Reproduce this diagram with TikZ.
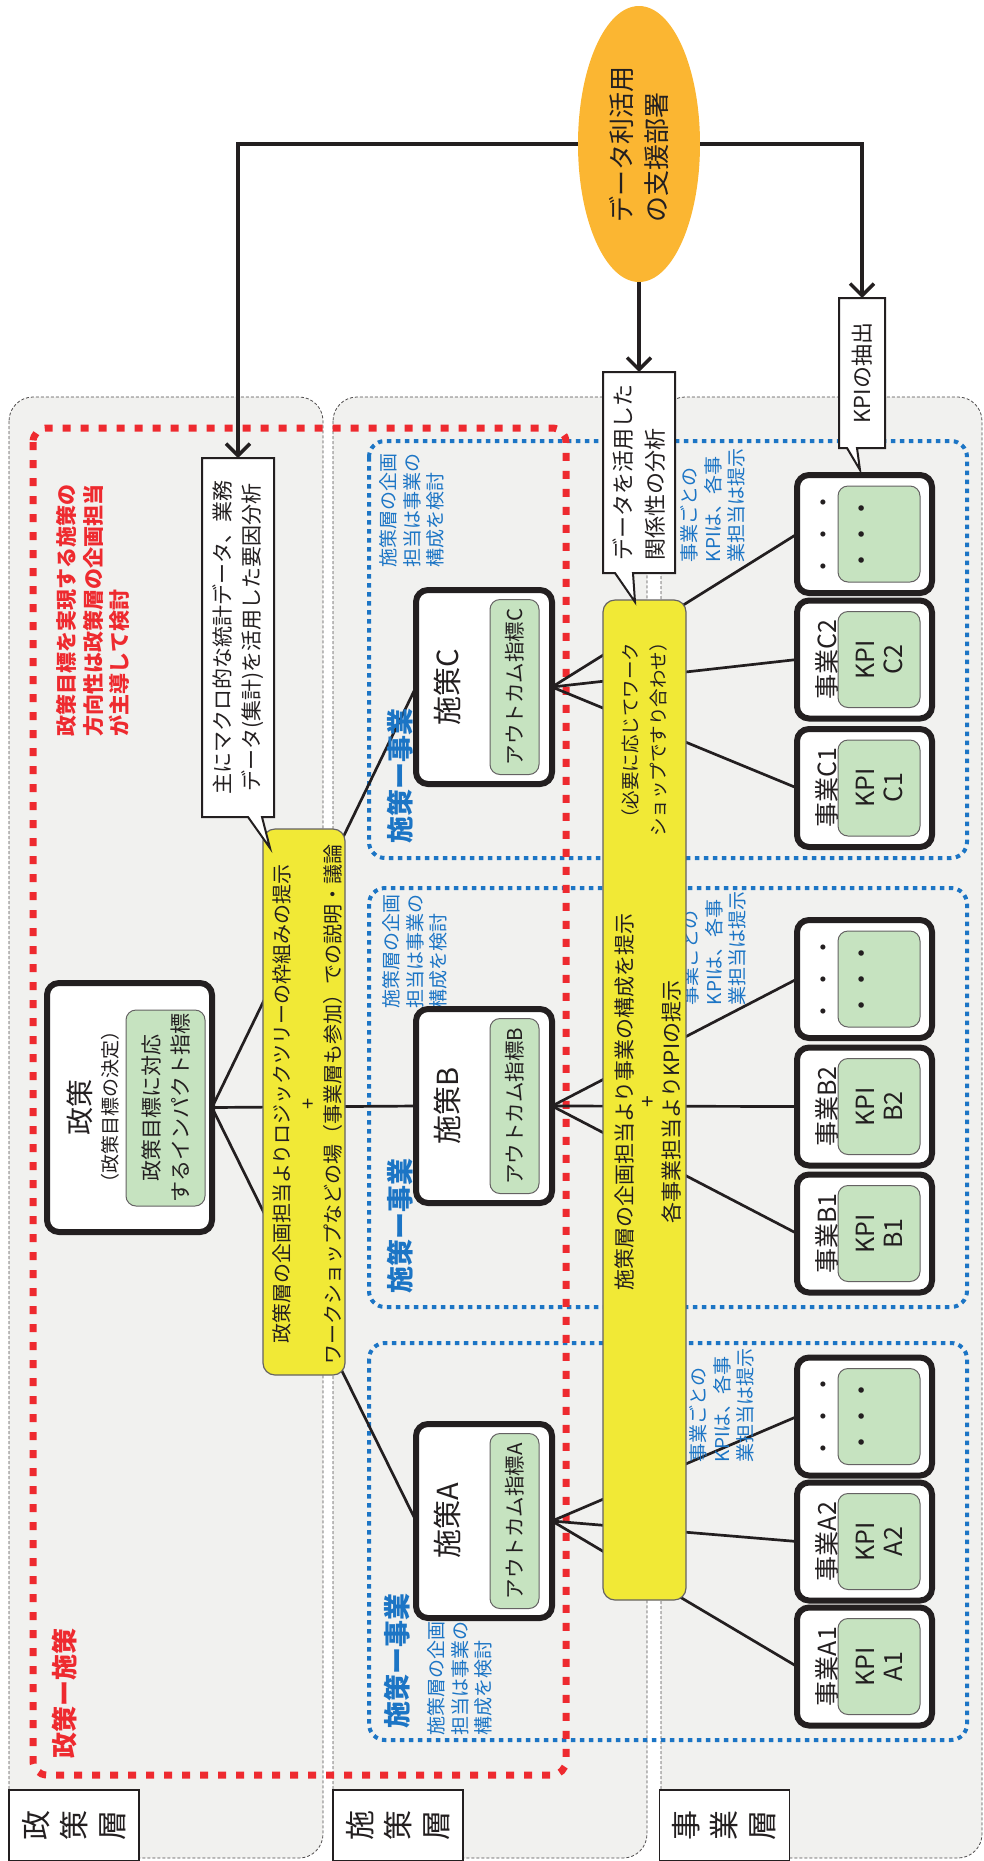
\documentclass[tikz,border=0pt]{standalone}
\usepackage{fontspec}
\setmainfont{Noto Sans CJK JP}
\usetikzlibrary{shapes.geometric,arrows.meta,calc}

\pgfdeclarelayer{back}
\pgfdeclarelayer{grp}
\pgfdeclarelayer{lines}
\pgfsetlayers{back,grp,lines,main}

\definecolor{ellfill}{HTML}{FBB632}
\definecolor{yel}{HTML}{F1E936}
\definecolor{grn}{HTML}{C6E3C0}
\definecolor{layergray}{HTML}{F1F1EF}
\definecolor{redline}{HTML}{EE2A2F}
\definecolor{blueline}{HTML}{1C75C5}
\definecolor{ink}{HTML}{231F20}

\newcommand{\fs}[2]{\fontsize{#1pt}{#2pt}\selectfont}

\tikzset{
  rot/.style={rotate=90, inner sep=0pt, outer sep=0pt, align=center, text=ink},
  pwh/.style 2 args={minimum height=#1pt, minimum width=#2pt},
  thickbox/.style={rot, draw=ink, line width=6pt, fill=white, rounded corners=12pt},
  grnbox/.style={rot, draw=ink!70, line width=1pt, fill=grn, rounded corners=10pt},
  yelbox/.style={rot, draw=ink!70, line width=1.2pt, fill=yel, rounded corners=12pt},
  tree/.style={draw=ink, line width=2.7pt},
  feed/.style={draw=ink, line width=3.5pt, -{Straight Barb[length=12pt,width=24pt]}},
  callout/.style={draw=ink, line width=2pt, fill=white, line join=miter},
  layerbox/.style={fill=layergray, draw=ink!80, line width=0.8pt, dash pattern=on 3pt off 2pt, rounded corners=24pt},
  lbl/.style={rot, draw=ink, line width=1.8pt, fill=white},
  grpbox/.style={draw=blueline, line width=4pt, dash pattern=on 4.5pt off 4.5pt, rounded corners=16pt},
  redbox/.style={draw=redline, line width=7pt, dash pattern=on 8pt off 10pt, rounded corners=14pt},
  bluetxt/.style={rot, text=blueline, align=left, anchor=west, font=\fs{19}{23.5}},
  bluehead/.style={rot, text=blueline, anchor=west, font=\bfseries\fs{27}{30}},
}

\begin{document}
\begin{tikzpicture}[x=1pt, y=-1pt]
\useasboundingbox (0,0) rectangle (984,1861);

% three layers
\begin{pgfonlayer}{back}
  \draw[layerbox] (9,397) rectangle (323,1858);
  \draw[layerbox] (333,397) rectangle (647,1858);
  \draw[layerbox] (661,397) rectangle (982,1858);
\end{pgfonlayer}

% groups: policy-measure (red) and measure-project (blue)
\begin{pgfonlayer}{grp}
  \draw[grpbox] (369,441) rectangle (967,858);
  \draw[grpbox] (369,888) rectangle (967,1307);
  \draw[grpbox] (369,1343) rectangle (967,1740);
  \draw[redbox] (33,428) rectangle (566,1775);
\end{pgfonlayer}

% layer labels
\node[lbl, pwh={130}{71}, font=\fs{30}{38}] (L1) at (74,1825.5) {政\\策\\層};
\node[lbl, pwh={130}{71}, font=\fs{30}{38}] (L2) at (398,1825.5) {施\\策\\層};
\node[lbl, pwh={130}{71}, font=\fs{30}{38}] (L3) at (724.5,1825.5) {事\\業\\層};

% red notes
\node[rot, text=redline, align=left, anchor=west, font=\bfseries\fs{21}{26.5}] (rnote) at (93,736)
  {政策目標を実現する施策の\\方向性は政策層の企画担当\\が主導して検討};
\node[rot, text=redline, anchor=west, font=\bfseries\fs{26}{28}] (rhead) at (65,1758) {政策ー施策};

% blue notes
\node[bluehead] (hC) at (400,843) {施策ー事業};
\node[bluehead] (hB) at (400,1293) {施策ー事業};
\node[bluehead] (hA) at (397,1728) {施策ー事業};
\node[bluetxt] (tC) at (412,567) {施策層の企画\\担当は事業の\\構成を検討};
\node[bluetxt] (tB) at (415,1008) {施策層の企画\\担当は事業の\\構成を検討};
\node[bluetxt] (tA) at (460,1735) {施策層の企画\\担当は事業の\\構成を検討};
\node[bluetxt] (kC) at (713,562) {事業ごとの\\KPIは、各事\\業担当は提示};
\node[bluetxt] (kB) at (714,1005) {事業ごとの\\KPIは、各事\\業担当は提示};
\node[bluetxt] (kA) at (722,1462) {事業ごとの\\KPIは、各事\\業担当は提示};

% yellow discussion bars
\node[yelbox, pwh={82}{546}] (y1) at (304,1102) {};
\node[rot, font=\fs{20}{25.5}] (y1t) at (308,1104)
  {政策層の企画担当よりロジックツリーの枠組みの提示\\+\\ワークショップなどの場（事業層も参加）での説明・議論};
\node[yelbox, pwh={83}{1000}] (y2) at (644.5,1100) {};
\node[rot, font=\fs{18.5}{28}] (y2a) at (644,735) {（必要に応じてワーク\\ショップですり合わせ）};
\node[rot, font=\fs{21}{23.5}] (y2b) at (648,1102)
  {施策層の企画担当より事業の構成を提示\\+\\各事業担当よりKPIの提示};

% policy
\node[thickbox, pwh={165}{249}] (pol) at (129.5,1107.5) {};
\node[rot, font=\fs{28}{30}] (polt) at (80,1107) {政策};
\node[rot, font=\fs{19}{22}] (pols) at (110,1107) {（政策目標の決定）};
\node[grnbox, pwh={79}{196}, font=\fs{21}{29}] (polg) at (165.5,1108) {政策目標に対応\\するインパクト指標};

% measures
\foreach \nm/\yy/\lb in {sC/687/C, sB/1106/B, sA/1521/A} {
  \node[thickbox, pwh={136}{194}] (\nm) at (484,\yy) {};
  \node[rot, font=\fs{29}{30}] at (447,\yy) {施策\lb};
  \node[grnbox, pwh={49}{175}, font=\fs{20.5}{22}] at (514.5,\yy) {アウトカム指標\lb};
}

% projects
\foreach \nm/\yy/\lb in {jC1/788/C1, jC2/659.5/C2, jB1/1233.5/B1, jB2/1106.5/B2, jA1/1666.5/A1, jA2/1541.5/A2} {
  \node[thickbox, pwh={135}{118}] (\nm) at (864.5,\yy) {};
  \node[rot, font=\fs{25}{28}] at (827,\yy) {事業\lb};
  \node[grnbox, pwh={82}{96}, font=\fs{25}{28}] at (879,\yy) {KPI\\\lb};
}
\foreach \nm/\yy in {jC0/534, jB0/979, jA0/1416.5} {
  \node[thickbox, pwh={135}{118}] (\nm) at (864.5,\yy) {};
  \node[rot, font=\fs{24}{26}] at (827,\yy) {・\hspace{8pt}・\hspace{8pt}・};
  \node[grnbox, pwh={82}{96}] at (879,\yy) {};
  \node[rot, font=\fs{26}{28}] at (865,\yy) {・・・};
}

% tree connectors, drawn beneath the yellow bars
\begin{pgfonlayer}{lines}
  \foreach \s in {sC,sB,sA} \draw[tree] (pol.south) -- (\s.north);
  \foreach \j in {jC0,jC2,jC1} \draw[tree] (sC.south) -- (\j.north);
  \foreach \j in {jB0,jB2,jB1} \draw[tree] (sB.south) -- (\j.north);
  \foreach \j in {jA0,jA2,jA1} \draw[tree] (sA.south) -- (\j.north);
\end{pgfonlayer}

% callouts
\draw[callout] (274,458) -- (274,817) -- (262,817) -- (270,848) -- (248,817) -- (202,817) -- (202,458) -- cycle;
\node[rot, pwh={72}{359}, font=\fs{21}{29}] (c1) at (238,637.5)
  {主にマクロ的な統計データ、業務\\データ(集計)を活用した要因分析};
\draw[callout] (675,372) -- (675,573) -- (633,573) -- (635,602) -- (615,573) -- (603,573) -- (603,372) -- cycle;
\node[rot, pwh={72}{201}, align=left, font=\fs{22}{32}] (c2) at (639,472.5) {データを活用した\\関係性の分析};
\draw[callout] (885,298) -- (885,448) -- (857,448) -- (860,470) -- (847,448) -- (839,448) -- (839,298) -- cycle;
\node[rot, pwh={46}{150}, font=\fs{22}{26}] (c3) at (862,373) {KPIの抽出};

% data support unit
\node[rot, ellipse, fill=ellfill, minimum width=276pt, minimum height=122pt, align=left, font=\fs{26}{35}] (ell) at (639,144) {データ利活用\\の支援部署};
\draw[feed] (ell.north) -| (c1.east);
\draw[feed] (ell.south) -| (c3.east);
\draw[feed] (ell.west) -- (c2.east);

\end{tikzpicture}
\end{document}
